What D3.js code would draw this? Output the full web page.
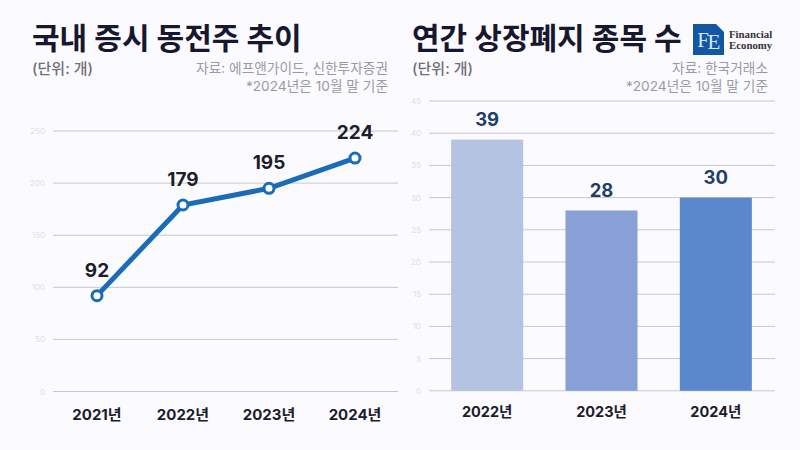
<!DOCTYPE html>
<html><head><meta charset="utf-8">
<script src="https://cdn.jsdelivr.net/npm/d3@7"></script>
<style>
html,body{margin:0;padding:0;background:#fbfbff}
text{font-family:Inter,"Noto Sans CJK KR",sans-serif}
</style></head><body>
<svg id="c" width="800" height="450"></svg>
<script>
const lineYears=["2021년","2022년","2023년","2024년"];
const lineValues=[92,179,195,224];
const lineTicks=[0,50,100,150,200,250];
const barYears=["2022년","2023년","2024년"];
const barValues=[39,28,30];
const barColors=["#b3c3e1","#88a0d5","#5b88cd"];
const barTicks=[0,5,10,15,20,25,30,35,40,45];

const svg=d3.select("#c");
svg.append("rect").attr("width",800).attr("height",450).attr("fill","#fbfbff");
function txt(x,y,s,size,weight,fill,anchor){
  return svg.append("text").attr("x",x).attr("y",y).text(s).attr("font-size",size)
    .attr("font-weight",weight).attr("fill",fill).attr("text-anchor",anchor||"start");
}
function axes(x,y,ticks,x0,x1,tickX,labelY,labelSize){
  svg.append("g").selectAll("line").data(ticks).join("line")
    .attr("x1",x0).attr("x2",x1).attr("y1",d=>y(d)).attr("y2",d=>y(d))
    .attr("stroke","#c6c6d0").attr("stroke-width",1);
  svg.append("g").selectAll("text").data(ticks).join("text")
    .attr("x",tickX).attr("y",d=>y(d)+3).attr("text-anchor","end")
    .attr("font-size",8).attr("fill","#e0e0e6").text(d=>d);
  svg.append("g").selectAll("text").data(x.domain()).join("text")
    .attr("x",d=>x(d)+x.bandwidth()/2).attr("y",labelY).attr("text-anchor","middle")
    .attr("font-size",labelSize).attr("font-weight",700).attr("fill","#1c1c2a").text(d=>d);
}
// left
const xL=d3.scaleBand().domain(lineYears).range([54,398]);
const yL=d3.scaleLinear().domain([0,250]).range([391.5,131]);
axes(xL,yL,lineTicks,53,398,45,420,15);
const cxL=d=>xL(d)+xL.bandwidth()/2;
svg.append("path").datum(lineValues)
  .attr("d",d3.line().x((d,i)=>cxL(lineYears[i])).y(d=>yL(d)))
  .attr("fill","none").attr("stroke","#1b6cb8").attr("stroke-width",5);
svg.append("g").selectAll("circle").data(lineValues).join("circle")
  .attr("cx",(d,i)=>cxL(lineYears[i])).attr("cy",d=>yL(d)).attr("r",5)
  .attr("fill","#fff").attr("stroke","#1b6cb8").attr("stroke-width",3);
svg.append("g").selectAll("text").data(lineValues).join("text")
  .attr("x",(d,i)=>cxL(lineYears[i])).attr("y",d=>yL(d)-19).attr("text-anchor","middle")
  .attr("font-size",19).attr("font-weight",700).attr("fill","#1e1e28").text(d=>d);
// right
const xR=d3.scaleBand().domain(barYears).range([430,773]).paddingInner(0.37).paddingOuter(0.185);
const yR=d3.scaleLinear().domain([0,45]).range([390.8,101]);
axes(xR,yR,barTicks,429,775,421,417,14.5);
svg.append("g").selectAll("rect").data(barValues).join("rect")
  .attr("x",(d,i)=>xR(barYears[i])).attr("width",xR.bandwidth())
  .attr("y",d=>yR(d)).attr("height",d=>yR(0)-yR(d))
  .attr("fill",(d,i)=>barColors[i]);
svg.append("g").selectAll("text").data(barValues).join("text")
  .attr("x",(d,i)=>xR(barYears[i])+xR.bandwidth()/2).attr("y",d=>yR(d)-13.5).attr("text-anchor","middle")
  .attr("font-size",18.5).attr("font-weight",700).attr("fill","#1f3f66").text(d=>d);
// titles
txt(32,49,"국내 증시 동전주 추이",30,700,"#17172e");
txt(412,49,"연간 상장폐지 종목 수",30,700,"#17172e");
txt(32,74,"(단위: 개)",15,500,"#6f6f78");
txt(412,74,"(단위: 개)",15,500,"#6f6f78");
txt(388,73,"자료: 에프앤가이드, 신한투자증권",13.7,400,"#9a9aa2","end");
txt(388,91,"*2024년은 10월 말 기준",13.7,400,"#9a9aa2","end");
txt(768,73,"자료: 한국거래소",13.7,400,"#9a9aa2","end");
txt(768,91,"*2024년은 10월 말 기준",13.7,400,"#9a9aa2","end");
// logo
svg.append("rect").attr("x",693).attr("y",24).attr("width",31).attr("height",31).attr("fill","#1256a4");
svg.append("path").attr("d","M716 24H724V32Z").attr("fill","#fbfbff");
svg.append("text").attr("x",703).attr("y",47).attr("text-anchor","middle").attr("font-size",21)
  .attr("fill","#d8e8f8").style("font-family","'Liberation Serif',serif").text("F");
svg.append("text").attr("x",714).attr("y",49).attr("text-anchor","middle").attr("font-size",21)
  .attr("fill","#d8e8f8").style("font-family","'Liberation Serif',serif").text("E");
svg.append("text").attr("x",729).attr("y",38).attr("font-size",10.8).attr("font-weight",700)
  .attr("fill","#333").style("font-family","'Liberation Serif',serif").text("Financial");
svg.append("text").attr("x",729).attr("y",49).attr("font-size",10.8).attr("font-weight",700)
  .attr("fill","#333").style("font-family","'Liberation Serif',serif").text("Economy");
</script>
</body></html>
